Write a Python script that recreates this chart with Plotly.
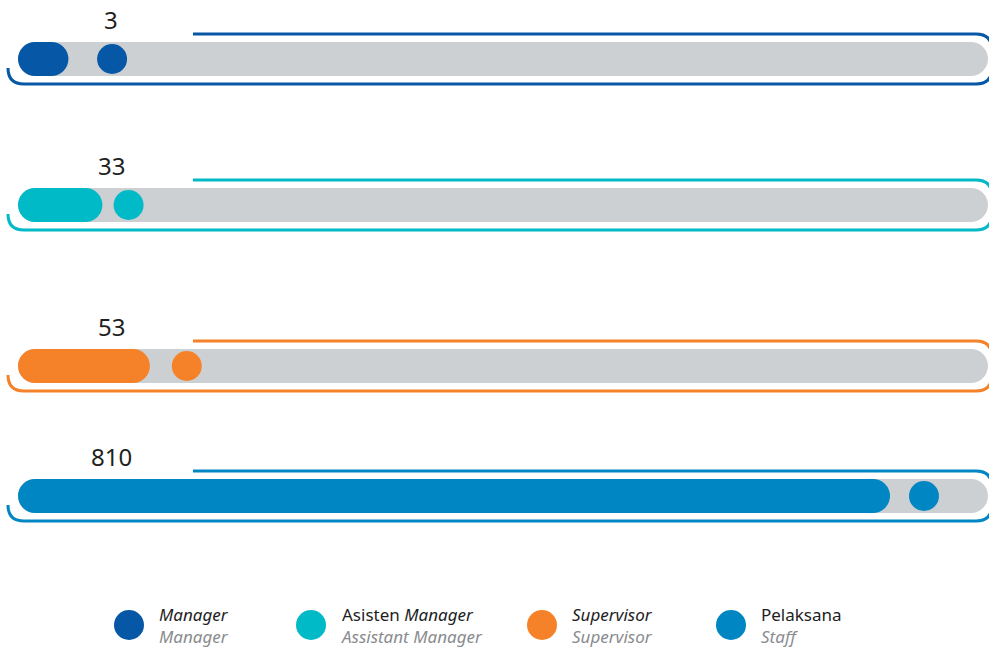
import plotly.graph_objects as go

# ---- data ----
categories = ["Manager", "Asisten Manager", "Supervisor", "Pelaksana"]
legend_en = ["Manager", "Assistant Manager", "Supervisor", "Staff"]
counts = [3, 33, 53, 810]
# bar fill as drawn in the picture (% of the full grey track)
fill_pct = [5.2, 8.7, 13.6, 89.9]
# position of the round dot marker along the track (% of track)
dot_pct = [9.7, 11.4, 17.4, 93.4]
track_pct = [100, 100, 100, 100]

colors = ["#0657A5", "#00BAC8", "#F58228", "#0086C3"]
TRACK = "#CDD0D3"
W, H = 989, 649
ROW_Y = [59, 205, 366, 496]          # row centres (layout)
LEFT_PX, TRACK_PX = 18, 970           # track start / length (layout)
UNIT = TRACK_PX / 100.0

def X(px):
    return (px - LEFT_PX) / UNIT

fig = go.Figure()
zero_base = [0, 0, 0, 0]

# grey tracks
fig.add_trace(go.Bar(orientation="h", y=ROW_Y, x=track_pct, base=zero_base,
                     width=34, marker=dict(color=TRACK, line_width=0),
                     hoverinfo="skip", showlegend=False))
# coloured fills
fig.add_trace(go.Bar(orientation="h", y=ROW_Y, x=fill_pct, base=zero_base,
                     width=34, marker=dict(color=colors, line_width=0),
                     hoverinfo="skip", showlegend=False))
# dots
fig.add_trace(go.Scatter(x=dot_pct, y=ROW_Y, mode="markers",
                         marker=dict(size=30, color=colors, line_width=0),
                         hoverinfo="skip", showlegend=False))

shapes = []
annotations = []
for i, c in enumerate(ROW_Y):
    path = (f"M {X(8)},{c+9} Q {X(8)},{c+25} {X(24)},{c+25} "
            f"L {X(976)},{c+25} Q {X(992)},{c+25} {X(992)},{c+9} "
            f"L {X(992)},{c-9} Q {X(992)},{c-25} {X(976)},{c-25} "
            f"L {X(193)},{c-25}")
    shapes.append(dict(type="path", xref="x", yref="y", path=path,
                       line=dict(color=colors[i], width=3),
                       fillcolor="rgba(0,0,0,0)", layer="above"))
    annotations.append(dict(x=111 / W, xref="paper", y=c - 40, yref="y",
                            text=f"{counts[i]}", showarrow=False,
                            xanchor="center", yanchor="middle",
                            font=dict(size=24, color="#231F20",
                                      family="Noto Sans")))

# custom legend
LEG_X = [129, 311, 542, 731]
LEG_Y = 625
fig.add_trace(go.Scatter(x=[X(p) for p in LEG_X], y=[LEG_Y] * 4, mode="markers",
                         marker=dict(size=30, color=colors, line_width=0),
                         hoverinfo="skip", showlegend=False))
top_lines = ["<i>Manager</i>", "Asisten <i>Manager</i>",
             "<i>Supervisor</i>", "Pelaksana"]
for i, px in enumerate(LEG_X):
    txt = (f"{top_lines[i]}<br>"
           f"<span style='color:#8A8C8F'><i>{legend_en[i]}</i></span>")
    annotations.append(dict(x=(px + 28) / W, xref="paper", y=LEG_Y, yref="y",
                            text=txt, showarrow=False, align="left",
                            xanchor="left", yanchor="middle",
                            font=dict(size=17, color="#1E1E1E",
                                      family="Noto Sans")))

fig.update_layout(
    width=W, height=H, margin=dict(l=0, r=0, t=0, b=0),
    paper_bgcolor="white", plot_bgcolor="white",
    barmode="overlay", barcornerradius=17,
    xaxis=dict(range=[X(0), X(W)], visible=False, fixedrange=True),
    yaxis=dict(range=[H, 0], visible=False, fixedrange=True),
    shapes=shapes, annotations=annotations, showlegend=False,
)

fig.write_html("out.html")
